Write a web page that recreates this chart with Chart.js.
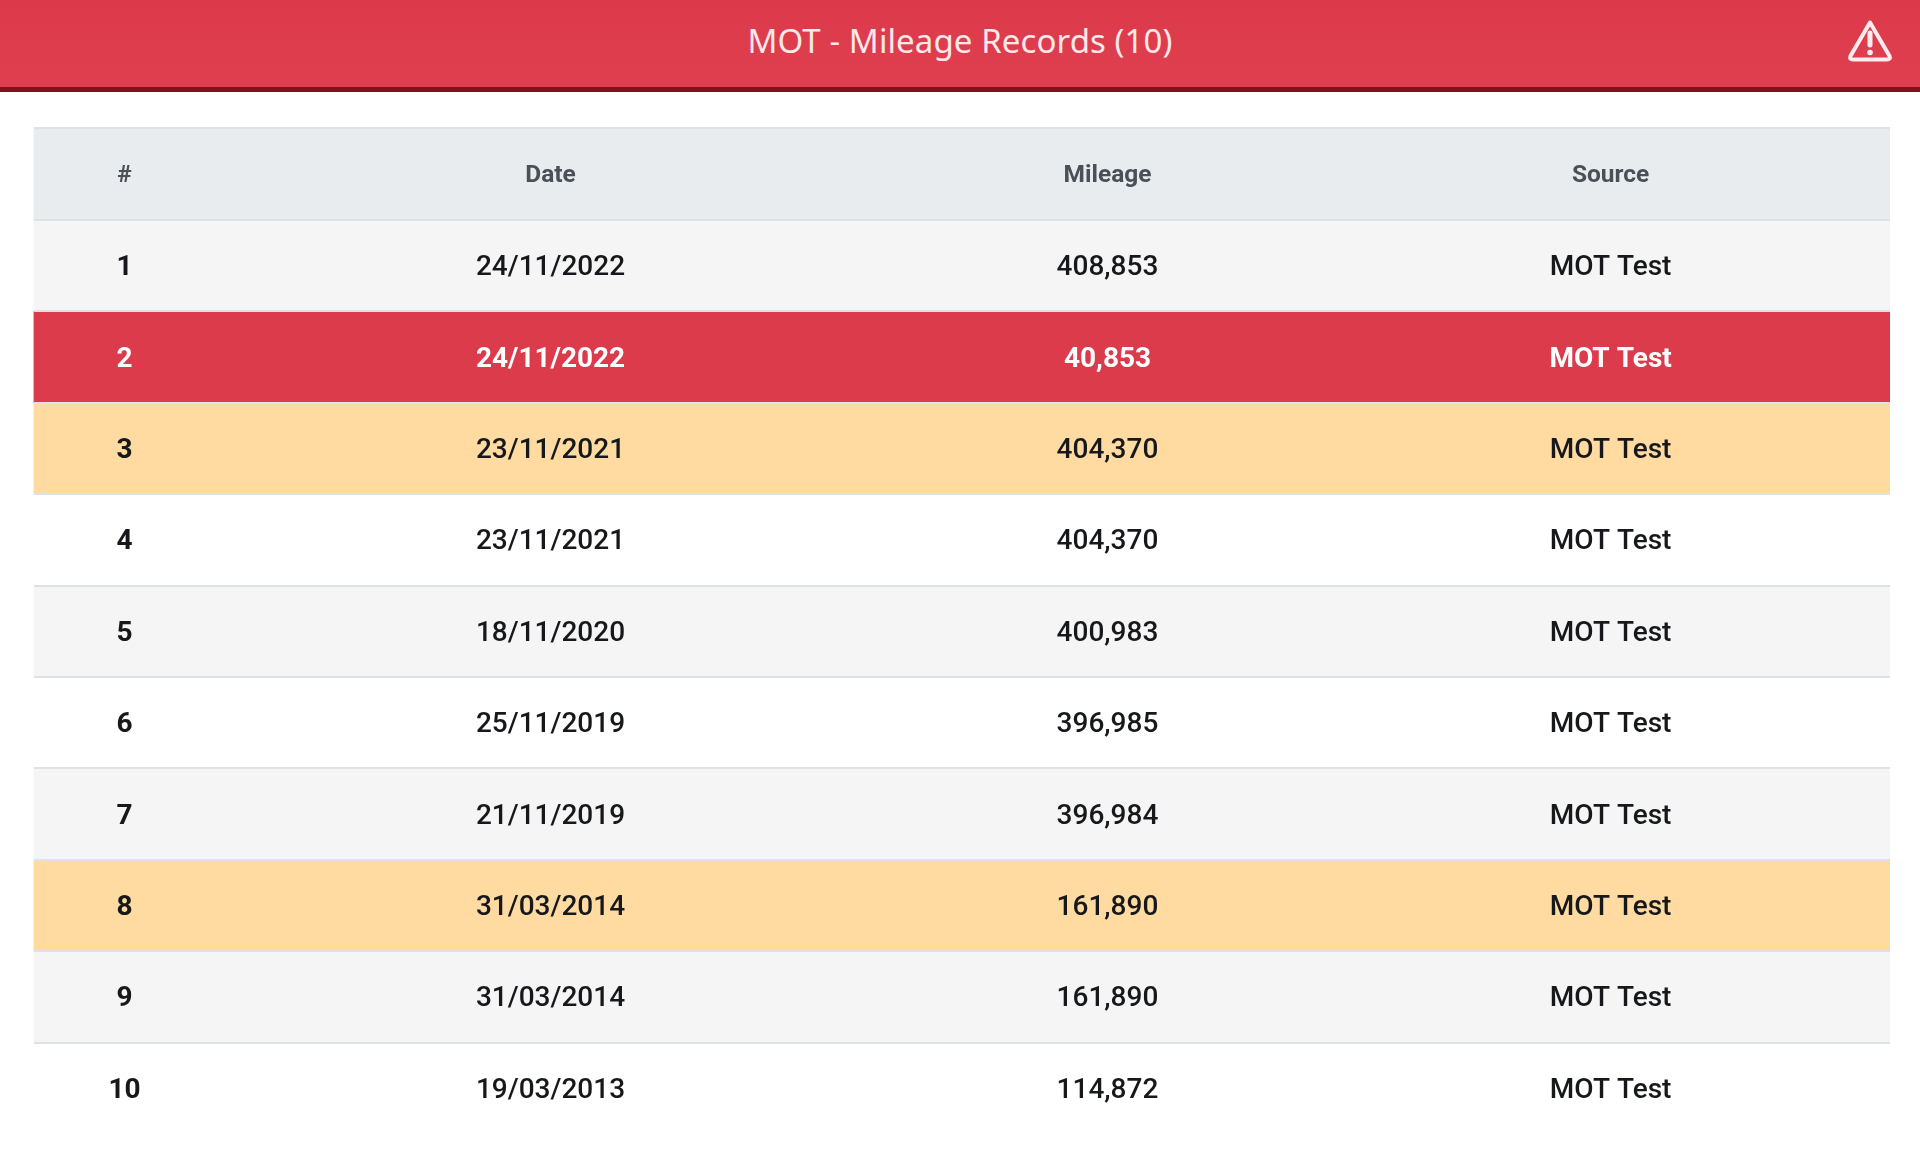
<!DOCTYPE html>
<html>
<head>
<meta charset="utf-8">
<title>MOT - Mileage Records</title>
<script src="https://cdn.jsdelivr.net/npm/chart.js@4"></script>
<style>
  html, body { margin: 0; padding: 0; background: #fff; }
  #wrap { position: relative; width: 1920px; height: 1166px; overflow: hidden; }
  #banner {
    position: absolute; left: 0; top: 0; width: 1920px; height: 87px;
    background: linear-gradient(#dc3a4b, #df3f50);
    border-bottom: 5px solid #850f1d;
    color: #fde8ea; font: 400 33px "Noto Sans", sans-serif; letter-spacing: 0.1px;
    text-align: center; line-height: 82px;
  }
  #banner svg { position: absolute; left: 1847px; top: 19px; }
  canvas { position: absolute; left: 0; top: 0; }
</style>
</head>
<body>
<div id="wrap">
  <canvas id="tabela" width="1920" height="1166"></canvas>
  <div id="banner">MOT - Mileage Records (10)
    <svg width="46" height="44" viewBox="0 0 46 44" fill="none">
      <path d="M23 3.5 L42.5 37 Q44 40.5 40 40.5 L6 40.5 Q2 40.5 3.5 37 Z" stroke="#fdecee" stroke-width="4" stroke-linejoin="round"/>
      <path d="M23 14 L23 26" stroke="#fdecee" stroke-width="5" stroke-linecap="round"/>
      <circle cx="23" cy="33.5" r="2.8" fill="#fdecee"/>
    </svg>
  </div>
</div>
<script>
const colunas = ["#", "Date", "Mileage", "Source"];
const numeros = ["1", "2", "3", "4", "5", "6", "7", "8", "9", "10"];
const datas = ["24/11/2022", "24/11/2022", "23/11/2021", "23/11/2021", "18/11/2020", "25/11/2019", "21/11/2019", "31/03/2014", "31/03/2014", "19/03/2013"];
const milhas = [408853, 40853, 404370, 404370, 400983, 396985, 396984, 161890, 161890, 114872];
const fontes = ["MOT Test", "MOT Test", "MOT Test", "MOT Test", "MOT Test", "MOT Test", "MOT Test", "MOT Test", "MOT Test", "MOT Test"];
const alertaVermelho = ["2"];
const alertaAmbar = ["3", "8"];

const centros = [0.049, 0.2785, 0.5785, 0.8495];

function corLinha(num, i) {
  if (alertaVermelho.includes(num)) return "#dc3b4b";
  if (alertaAmbar.includes(num)) return "#ffdba1";
  return i % 2 === 0 ? "#f5f5f5" : "#ffffff";
}

const categorias = ["cabecalho", ...numeros];
const faixas = categorias.map(() => 1);
const coresFaixas = ["#e9ecef", ...numeros.map(corLinha)];

const textoCelulas = {
  id: "textoCelulas",
  afterDatasetsDraw(chart) {
    const { ctx, scales: { x, y } } = chart;
    ctx.save();
    ctx.textAlign = "center";
    ctx.textBaseline = "middle";

    // o texto fica um pouco abaixo do centro da linha
    ctx.font = "700 24.5px Roboto";
    ctx.fillStyle = "#495057";
    colunas.forEach((c, k) => ctx.fillText(c, x.getPixelForValue(centros[k]), y.getPixelForValue(0) + 2));

    numeros.forEach((num, i) => {
      const py = y.getPixelForValue(i + 1) + 2.5;
      const linha = [num, datas[i], milhas[i].toLocaleString("en-GB"), fontes[i]];
      const vermelho = alertaVermelho.includes(num);
      linha.forEach((txt, k) => {
        ctx.font = (k === 0 || vermelho) ? "700 28px Roboto" : "500 28px Roboto";
        ctx.fillStyle = vermelho ? "#ffffff" : "#16181b";
        ctx.fillText(txt, x.getPixelForValue(centros[k]), py);
      });
    });
    ctx.restore();
  }
};

new Chart(document.getElementById("tabela").getContext("2d"), {
  type: "bar",
  data: {
    labels: categorias,
    datasets: [{
      data: faixas,
      backgroundColor: coresFaixas,
      barPercentage: 1,
      categoryPercentage: 1
    }]
  },
  options: {
    indexAxis: "y",
    responsive: false,
    animation: false,
    devicePixelRatio: 1,
    layout: { padding: { left: 33.5, right: 30, top: 128.5, bottom: 32 } },
    plugins: { legend: { display: false }, tooltip: { enabled: false } },
    scales: {
      x: { type: "linear", min: 0, max: 1, display: false },
      y: {
        ticks: { display: false },
        border: { display: false },
        grid: {
          // a linha final (sem tick) nao aparece no fim da tabela
          color: c => c.index === undefined ? "rgba(0,0,0,0)" : "#dee2e6",
          lineWidth: 2,
          offset: true,
          z: 1,
          drawTicks: false
        }
      }
    }
  },
  plugins: [textoCelulas]
});
</script>
</body>
</html>
